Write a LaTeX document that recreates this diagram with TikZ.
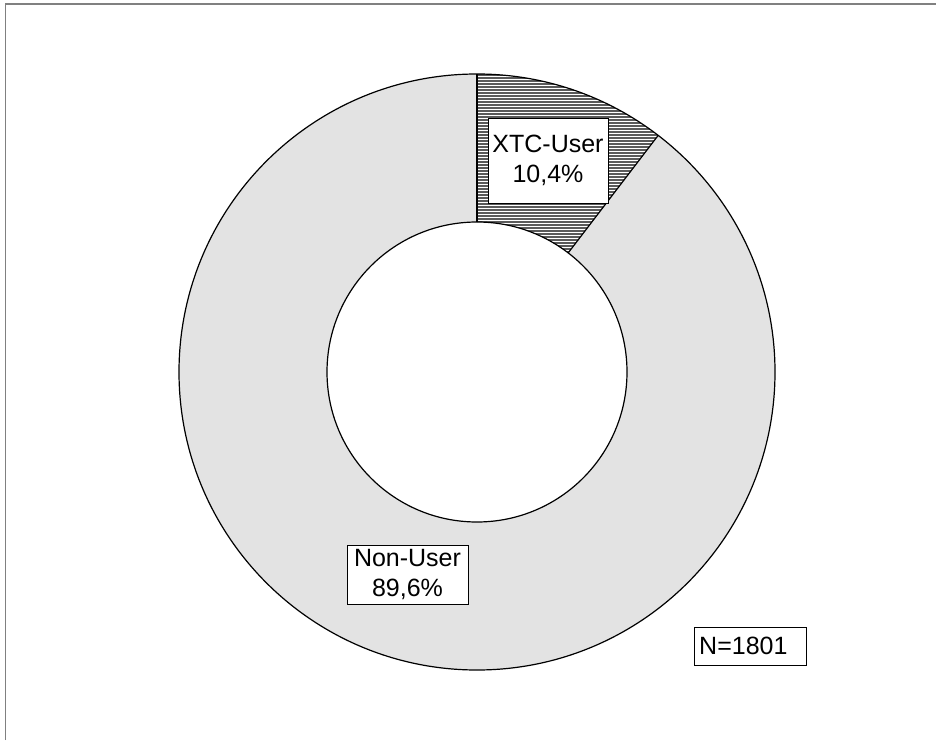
\documentclass[tikz,border=0pt]{standalone}
\usepackage{fontspec}
\setmainfont{Liberation Sans}
\definecolor{ringgray}{HTML}{E3E3E3}
\definecolor{hatchgray}{HTML}{5A5A5A}
\definecolor{framegray}{HTML}{808080}
\begin{document}
\begin{tikzpicture}[x=1pt,y=1pt,
  lbl/.style={draw=black,line width=0.8pt,fill=white,align=center,inner sep=0pt,font=\fontsize{25}{30}\selectfont},
  ring/.style={draw=black,line width=1.2pt}]
\useasboundingbox (0,0) rectangle (936,740);
\coordinate (c) at (477,368);
% Non-User segment
\fill[ringgray] ([shift={(90:298)}]c) arc[start angle=90,end angle=412.56,radius=298]
  -- ([shift={(412.56:150)}]c) arc[start angle=412.56,end angle=90,radius=150] -- cycle;
% XTC segment with hatching
\begin{scope}
\clip ([shift={(52.56:298)}]c) arc[start angle=52.56,end angle=90,radius=298]
  -- ([shift={(90:150)}]c) arc[start angle=90,end angle=52.56,radius=150] -- cycle;
\fill[white] (470,470) rectangle (680,680);
\foreach \yy in {470,473,...,680} \draw[hatchgray,line width=1.2pt] (470,\yy) -- (680,\yy);
\end{scope}
% outlines
\draw[ring] (c) circle[radius=298];
\draw[ring] (c) circle[radius=150];
\draw[ring] ([shift={(90:150)}]c) -- ([shift={(90:298)}]c);
\draw[ring] ([shift={(52.56:150)}]c) -- ([shift={(52.56:298)}]c);
% frame (top and left only)
\draw[framegray,line width=1.6pt] (5.5,0) -- (5.5,736) -- (936,736);
% labels
\node[lbl,minimum width=120pt,minimum height=85pt] (xtc) at (548,579.5) {XTC-User\\10,4\%};
\node[lbl,minimum width=121pt,minimum height=59pt] (non) at (407.5,165.5) {Non-User\\89,6\%};
\node[lbl,minimum width=112pt,minimum height=38pt] (n) at (750,94) {};
\node[font=\fontsize{25}{30}\selectfont,anchor=west,inner sep=0pt] (ntext) at (699,94) {N=1801};
\end{tikzpicture}
\end{document}
